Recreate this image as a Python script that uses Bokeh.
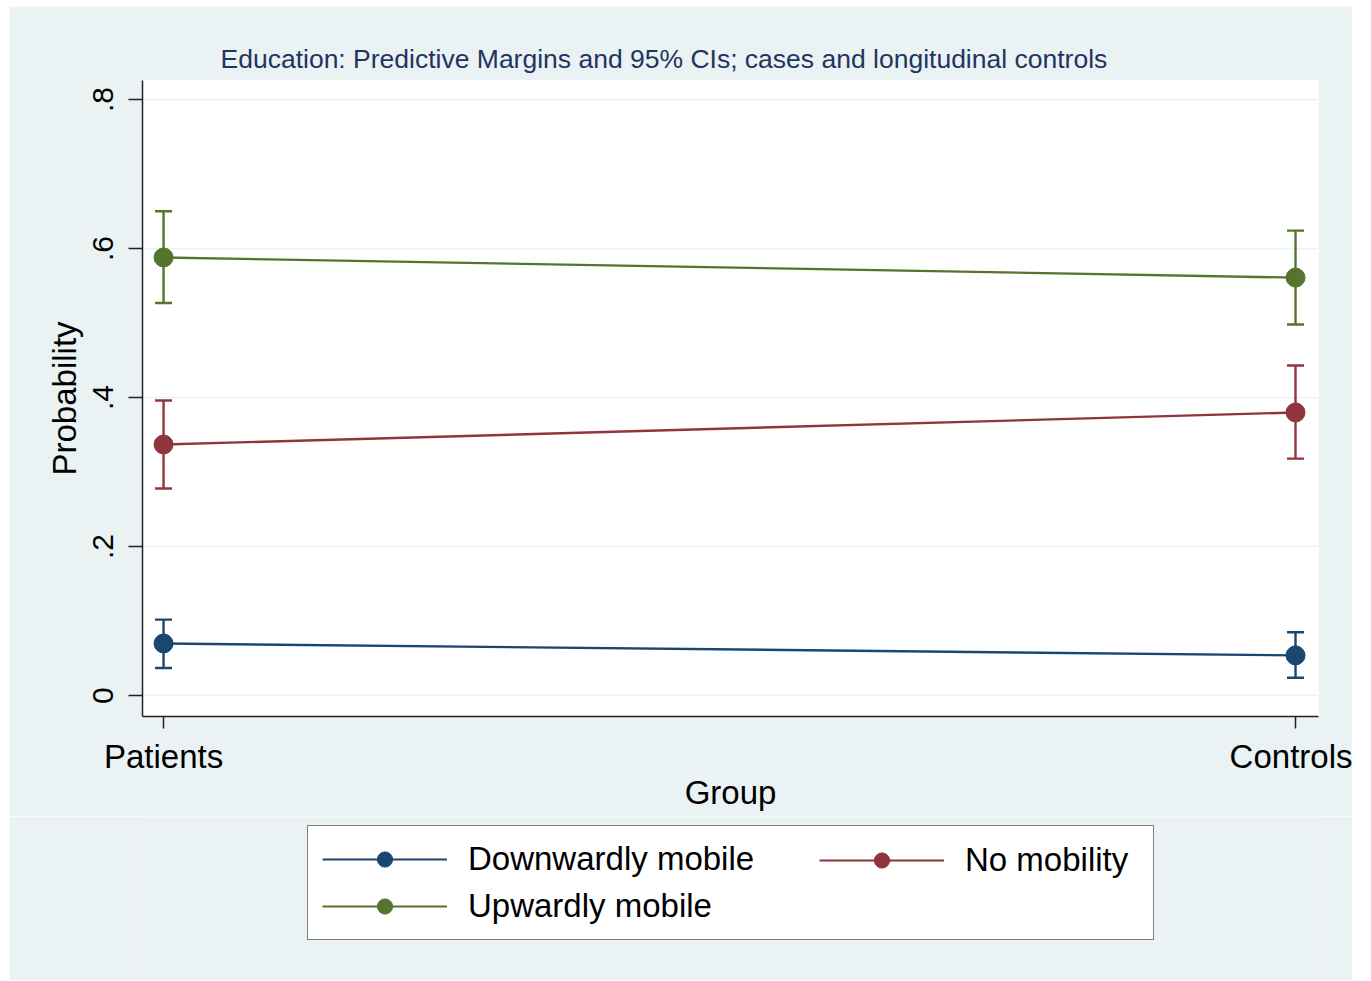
from bokeh.plotting import figure
from bokeh.layouts import column
from bokeh.models import (ColumnDataSource, Whisker, TeeHead, Legend, LegendItem,
                          FixedTicker, Range1d)
from bokeh.embed import file_html
from bokeh.resources import INLINE

# ---------------- data ----------------
groups = ["Patients", "Controls"]
series = ["Downwardly mobile", "No mobility", "Upwardly mobile"]
colors = ["#1A476F", "#90353B", "#55752F"]

down_mean = [0.070, 0.054]
down_lo = [0.037, 0.024]
down_hi = [0.102, 0.085]

nomob_mean = [0.337, 0.380]
nomob_lo = [0.278, 0.318]
nomob_hi = [0.396, 0.443]

up_mean = [0.588, 0.561]
up_lo = [0.527, 0.498]
up_hi = [0.650, 0.624]

y_ticks = [0, 0.2, 0.4, 0.6, 0.8]
y_tick_labels = ["0", ".2", ".4", ".6", ".8"]

title_text = "Education: Predictive Margins and  95% CIs; cases and longitudinal controls"

FONT = "Liberation Sans"
BG = "#EAF2F3"
AXC = "#222222"

x_pos = list(range(len(groups)))

# ---------------- main plot ----------------
p = figure(frame_width=1176, frame_height=636, output_backend="svg", toolbar_location=None,
           x_range=Range1d(-0.0186, 1.0203), y_range=Range1d(-0.028, 0.8255),
           min_border_left=133, min_border_right=34, min_border_top=74,
           min_border_bottom=100)
p.margin = (6, 0, 0, 9)

p.background_fill_color = "white"
p.border_fill_color = BG
p.outline_line_color = None

p.title.text = title_text
p.title.text_font = FONT
p.title.text_font_size = "26.5px"
p.title.text_font_style = "normal"
p.title.text_color = "#1F3560"
p.title.align = "left"
p.title.offset = 78
p.title.standoff = 13

# grid
p.xgrid.visible = False
p.ygrid.ticker = FixedTicker(ticks=y_ticks)
p.ygrid.grid_line_color = BG
p.ygrid.grid_line_width = 1.5

# y axis
ya = p.yaxis[0]
ya.ticker = FixedTicker(ticks=y_ticks)
ya.major_label_overrides = {t: l for t, l in zip(y_ticks, y_tick_labels)}
ya.major_label_orientation = "vertical"
ya.major_label_text_font = FONT
ya.major_label_text_font_size = "30px"
ya.major_label_text_color = "black"
ya.major_label_standoff = 15
ya.major_tick_out = 14
ya.major_tick_in = 0
ya.minor_tick_line_color = None
ya.axis_line_color = AXC
ya.axis_line_width = 1.5
ya.major_tick_line_color = AXC
ya.major_tick_line_width = 1.5
ya.axis_label = "Probability"
ya.axis_label_text_font = FONT
ya.axis_label_text_font_size = "33px"
ya.axis_label_text_font_style = "normal"
ya.axis_label_text_color = "black"
ya.axis_label_standoff = 8

# x axis
xa = p.xaxis[0]
xa.ticker = FixedTicker(ticks=x_pos)
xa.major_label_overrides = {i: g for i, g in zip(x_pos, groups)}
xa.major_label_text_font = FONT
xa.major_label_text_font_size = "33px"
xa.major_label_text_color = "black"
xa.major_label_standoff = 9
xa.major_tick_out = 12
xa.major_tick_in = 0
xa.minor_tick_line_color = None
xa.axis_line_color = AXC
xa.axis_line_width = 1.5
xa.major_tick_line_color = AXC
xa.major_tick_line_width = 1.5
xa.axis_label = "Group"
xa.axis_label_text_font = FONT
xa.axis_label_text_font_size = "33px"
xa.axis_label_text_font_style = "normal"
xa.axis_label_text_color = "black"
xa.axis_label_standoff = -4

# ---------------- legend strip ----------------
q = figure(width=1343, height=164, output_backend="svg", toolbar_location=None,
           x_range=Range1d(100, 101), y_range=Range1d(100, 101),
           min_border=0)
q.margin = (0, 0, 0, 9)
q.background_fill_color = BG
q.border_fill_color = BG
q.outline_line_color = None
q.axis.visible = False
q.grid.visible = False

means = [down_mean, nomob_mean, up_mean]
los = [down_lo, nomob_lo, up_lo]
his = [down_hi, nomob_hi, up_hi]

items = {}
for name, col, m, lo, hi in zip(series, colors, means, los, his):
    src = ColumnDataSource(dict(x=x_pos, y=m, lo=lo, hi=hi))
    w = Whisker(base="x", upper="hi", lower="lo", source=src, dimension="height",
                line_color=col, line_width=2.4,
                upper_head=TeeHead(size=17, line_color=col, line_width=2.4),
                lower_head=TeeHead(size=17, line_color=col, line_width=2.4))
    p.add_layout(w)
    p.line("x", "y", source=src, line_color=col, line_width=2.4)
    p.scatter("x", "y", source=src, size=19, fill_color=col, line_color=col)
    # same series drawn in the (out-of-range) legend strip, to key the legend
    lr = q.line("x", "y", source=src, line_color=col, line_width=2)
    sr = q.scatter("x", "y", source=src, size=18, fill_color=col, line_color=col)
    items[name] = LegendItem(label=name, renderers=[lr, sr])

common = dict(label_text_font=FONT, label_text_font_size="33px", label_text_color="black",
              glyph_width=125, glyph_height=38, label_height=38, label_standoff=21,
              padding=14, spacing=9, margin=0)

leg_a = Legend(items=[items[series[0]], items[series[2]]], location=(165, 40),
               border_line_color="black", border_line_width=1.5,
               background_fill_color="white", background_fill_alpha=1.0,
               label_width=671, **common)
leg_b = Legend(items=[items[series[1]]], location=(677, 101),
               border_line_color=None, background_fill_alpha=0.0, **common)
q.add_layout(leg_a, "center")
q.add_layout(leg_b, "center")

layout = column(p, q, spacing=0)
open("out.html", "w").write(file_html(layout, INLINE))
